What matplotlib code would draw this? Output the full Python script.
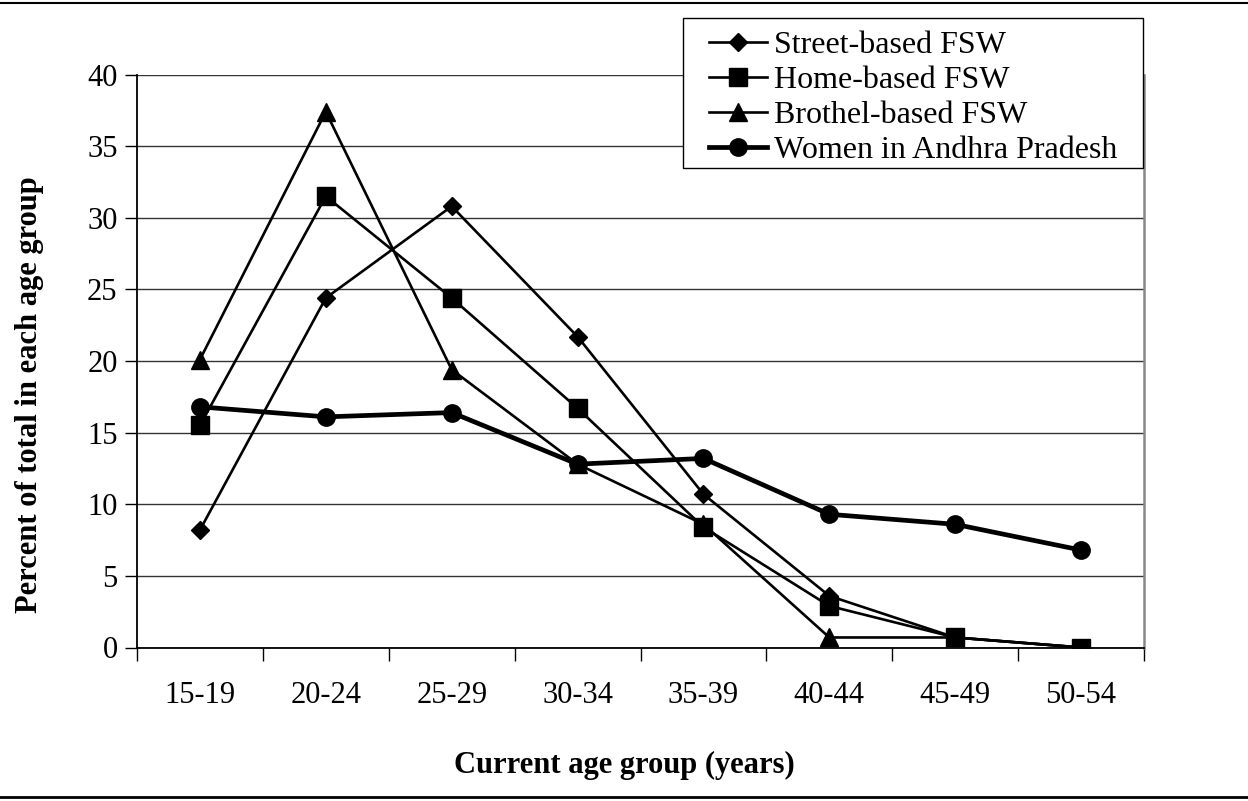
import numpy as np
import matplotlib.pyplot as plt
from matplotlib.lines import Line2D
from matplotlib.patches import Rectangle

plt.rcParams['font.family'] = ['Liberation Serif', 'DejaVu Serif']

age_groups = ['15-19', '20-24', '25-29', '30-34', '35-39', '40-44', '45-49', '50-54']
street = [8.2, 24.4, 30.8, 21.7, 10.7, 3.6, 0.7, 0.0]
home = [15.5, 31.5, 24.4, 16.7, 8.4, 2.9, 0.7, 0.0]
brothel = [20.1, 37.4, 19.4, 12.8, 8.6, 0.7, 0.7, 0.0]
women_ap = [16.8, 16.1, 16.4, 12.8, 13.2, 9.3, 8.6, 6.8]
y_ticks = [0, 5, 10, 15, 20, 25, 30, 35, 40]

W, H = 1248, 801
fig = plt.figure(figsize=(W / 100, H / 100), dpi=100)
ax = fig.add_axes([137 / W, 1 - 647.5 / H, (1144 - 137) / W, (647.5 - 74.5) / H])

x = np.arange(len(age_groups))
ax.plot(x, street, color='black', lw=1.9, marker='D', ms=9.5, label='Street-based FSW', zorder=3)
ax.plot(x, home, color='black', lw=1.9, marker='s', ms=12.5, label='Home-based FSW', zorder=3)
ax.plot(x, brothel, color='black', lw=1.9, marker='^', ms=13, label='Brothel-based FSW', zorder=3)
ax.plot(x, women_ap, color='black', lw=3.4, marker='o', ms=12.5, label='Women in Andhra Pradesh', zorder=4)

ax.set_xlim(-0.5, len(age_groups) - 0.5)
ax.set_ylim(0, 40)
ax.set_yticks(y_ticks)
ax.set_yticklabels([str(v) for v in y_ticks], fontsize=22)

# ticks at category boundaries, labels at centres
ax.set_xticks(np.arange(len(age_groups) + 1) - 0.5)
ax.set_xticklabels([])
ax.set_xticks(x, minor=True)
ax.set_xticklabels(age_groups, minor=True, fontsize=22)
ax.tick_params(axis='x', which='minor', length=0, pad=24)
ax.tick_params(axis='x', which='major', length=9, width=1, direction='out')
ax.tick_params(axis='y', length=9, width=1, direction='out', pad=5)

ax.grid(axis='y', color='#333333', lw=1)
ax.set_axisbelow(True)
ax.spines['top'].set_visible(False)
ax.spines['right'].set_color('#888888')
ax.spines['right'].set_linewidth(1.8)
ax.spines['left'].set_linewidth(1.3)
ax.spines['bottom'].set_linewidth(1.3)

ax.set_xlabel('Current age group (years)', fontsize=22, fontweight='bold')
ax.set_ylabel('Percent of total in each age group', fontsize=22, fontweight='bold')
ax.xaxis.set_label_coords(0.5, 1 - 765 / H, transform=fig.transFigure)
ax.yaxis.set_label_coords(30 / W, 1 - 395 / H, transform=fig.transFigure)
ax.xaxis.label.set_va('center')
ax.yaxis.label.set_va('center')

# legend box drawn separately so the padding can match
fig.add_artist(Rectangle((683 / W, 1 - 168 / H), (1143 - 683) / W, 150 / H,
                         transform=fig.transFigure, facecolor='white', edgecolor='black',
                         lw=1, zorder=5))
handles, labels = ax.get_legend_handles_labels()
leg = fig.legend(handles, labels, loc='upper left', bbox_to_anchor=(709 / W, 1 - 31 / H),
                 bbox_transform=fig.transFigure, fontsize=23, frameon=False,
                 handlelength=1.8, handletextpad=0.25, labelspacing=0.17, borderpad=0,
                 borderaxespad=0)
leg.set_zorder(6)

# outer frame lines at top and bottom
fig.add_artist(Line2D([0, 1], [1 - 2.5 / H, 1 - 2.5 / H], transform=fig.transFigure, color='black', lw=1.5))
fig.add_artist(Line2D([0, 1], [1 - 797 / H, 1 - 797 / H], transform=fig.transFigure, color='black', lw=2))

plt.savefig('out.png', dpi=100)
plt.close()
